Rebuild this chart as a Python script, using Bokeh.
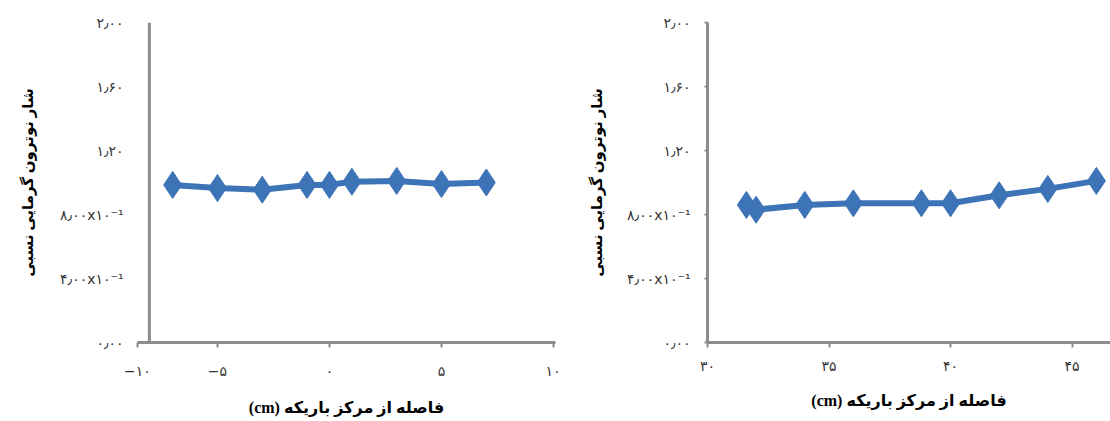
from bokeh.plotting import figure
from bokeh.layouts import row
from bokeh.models import FixedTicker, Span, ColumnDataSource, Range1d
from bokeh.embed import file_html
from bokeh.resources import INLINE

# ---- data ----
x_left = [-7, -5, -3, -1, 0, 1, 3, 5, 7]
y_left = [0.985, 0.965, 0.955, 0.985, 0.985, 1.005, 1.01, 0.99, 1.0]
x_right = [31.6, 32.0, 34.0, 36.0, 38.8, 40.0, 42.0, 44.0, 46.0]
y_right = [0.86, 0.83, 0.86, 0.87, 0.87, 0.87, 0.92, 0.96, 1.01]

y_ticks = [0, 0.4, 0.8, 1.2, 1.6, 2]
y_tick_labels = ["۰٫۰۰", "۴٫۰۰x۱۰⁻¹", "۸٫۰۰x۱۰⁻¹", "۱٫۲۰", "۱٫۶۰", "۲٫۰۰"]
x_ticks_left = [-10, -5, 0, 5, 10]
x_tick_labels_left = ["−۱۰", "−۵", "۰", "۵", "۱۰"]
x_ticks_right = [30, 35, 40, 45]
x_tick_labels_right = ["۳۰", "۳۵", "۴۰", "۴۵"]

x_title = "(cm) فاصله از مرکز باریکه"
y_title = "شار نوترون گرمایی نسبی"

BLUE = "#3D74B8"
AXIS = "#8c8c8c"
TICK_FONT = "DejaVu Sans"
TITLE_FONT = "Liberation Serif, DejaVu Sans"


def style(p, xstand, xlab_stand, ystand, ylab_stand):
    p.grid.visible = False
    p.outline_line_color = None
    p.background_fill_color = "white"
    for ax in (p.xaxis[0], p.yaxis[0]):
        ax.axis_line_color = AXIS
        ax.axis_line_width = 3
        ax.major_tick_line_color = AXIS
        ax.major_tick_line_width = 2
        ax.minor_tick_line_color = None
        ax.major_label_text_font = TICK_FONT
        ax.major_label_text_font_size = "14px"
        ax.major_label_text_color = "#333333"
        ax.axis_label_text_font = TITLE_FONT
        ax.axis_label_text_font_style = "bold"
        ax.axis_label_text_color = "black"
    p.xaxis.axis_label_text_font_size = "16px"
    p.yaxis.axis_label_text_font_size = "15px"
    p.xaxis.major_tick_in = 0
    p.xaxis.major_tick_out = 5
    p.yaxis.major_tick_in = 0
    p.yaxis.major_tick_out = 3
    p.xaxis.major_label_standoff = xstand
    p.xaxis.axis_label_standoff = xlab_stand
    p.yaxis.major_label_standoff = ystand
    p.yaxis.axis_label_standoff = ylab_stand
    p.xaxis.axis_label = x_title
    p.yaxis.axis_label = y_title
    p.yaxis.ticker = FixedTicker(ticks=y_ticks)
    p.yaxis.major_label_overrides = dict(zip(y_ticks, y_tick_labels))


H = 420

# ---- left chart ----
xl0, xl1 = -8.57, 10.09
p1 = figure(width=560, height=H, x_range=Range1d(xl0, xl1), y_range=Range1d(0, 2),
            output_backend="svg", toolbar_location=None,
            min_border_left=137, min_border_right=5, min_border_top=20, min_border_bottom=H - 345)
style(p1, 15, 17, 11, 21)
p1.yaxis.axis_line_color = None
p1.yaxis.major_tick_line_color = None
xt_left_pos = [max(t, xl0) for t in x_ticks_left]
p1.xaxis.ticker = FixedTicker(ticks=xt_left_pos)
p1.xaxis.major_label_overrides = dict(zip(xt_left_pos, x_tick_labels_left))
p1.add_layout(Span(location=-8.04, dimension="height", line_color=AXIS, line_width=3))

src1 = ColumnDataSource(dict(x=x_left, y=y_left))
p1.line("x", "y", source=src1, line_color=BLUE, line_width=6)
p1.scatter("x", "y", source=src1, marker="diamond", size=27, fill_color=BLUE, line_color=BLUE)

# ---- right chart ----
p2 = figure(width=550, height=H, x_range=Range1d(30, 46.58), y_range=Range1d(0, 2),
            output_backend="svg", toolbar_location=None,
            min_border_left=147, min_border_right=0, min_border_top=22, min_border_bottom=H - 342)
style(p2, 10, 15, 14, 19)
p2.xaxis.ticker = FixedTicker(ticks=x_ticks_right)
p2.xaxis.major_label_overrides = dict(zip(x_ticks_right, x_tick_labels_right))

src2 = ColumnDataSource(dict(x=x_right, y=y_right))
p2.line("x", "y", source=src2, line_color=BLUE, line_width=6)
p2.scatter("x", "y", source=src2, marker="diamond", size=27, fill_color=BLUE, line_color=BLUE)

layout = row(p1, p2)
open("out.html", "w").write(file_html(layout, INLINE))
